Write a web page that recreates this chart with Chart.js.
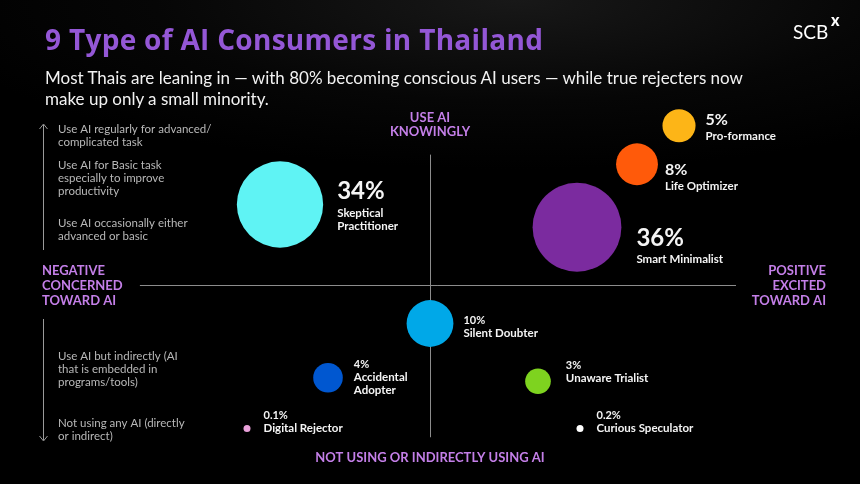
<!DOCTYPE html>
<html>
<head>
<meta charset="utf-8">
<title>9 Type of AI Consumers in Thailand</title>
<script src="https://cdn.jsdelivr.net/npm/chart.js@4.4.1/dist/chart.umd.min.js"></script>
<style>
  html, body { margin: 0; padding: 0; background: #000; overflow: hidden; }
  #wrap {
    position: relative; width: 860px; height: 484px; overflow: hidden;
    background: radial-gradient(ellipse 70% 35% at 60% 0%, #181818 0%, #060606 60%, #000 100%);
    font-family: Lato, "Noto Sans", sans-serif;
  }
  #wrap canvas { position: absolute; left: 0; top: 0; }
  h1 {
    position: absolute; left: 45px; top: 25px; margin: 0;
    font-family: "Open Sans", Lato, sans-serif;
    font-size: 28px; line-height: 28px; font-weight: 700; letter-spacing: 0.3px; color: #9457d6;
  }
  p.sub {
    position: absolute; left: 45px; top: 67px; margin: 0; width: 735px;
    font-size: 17px; line-height: 21px; color: #f2f2f2;
  }
  .logo {
    position: absolute; left: 793px; top: 22px; color: #fff;
    font-size: 19px; line-height: 19px;
  }
  .logo b { position: absolute; left: 38px; top: -12px; font-size: 16px; font-weight: 900; }
</style>
</head>
<body>
<div id="wrap">
  <canvas id="aiChart" width="860" height="484"></canvas>
  <h1>9 Type of AI Consumers in Thailand</h1>
  <p class="sub">Most Thais are leaning in — with 80% becoming conscious AI users — while true rejecters now make up only a small minority.</p>
  <div class="logo">SCB<b>x</b></div>
</div>
<script>
// consumer segments, share of population (%) and position on the two axes
// x: negative/concerned (-) ... positive/excited (+)
// y: not using / indirect (-) ... use AI knowingly (+)
var segments = ['Skeptical Practitioner', 'Pro-formance', 'Life Optimizer', 'Smart Minimalist',
                'Silent Doubter', 'Accidental Adopter', 'Digital Rejector', 'Unaware Trialist', 'Curious Speculator'];
var shares = [34, 5, 8, 36, 10, 4, 0.1, 3, 0.2];
var shareLabels = ['34%', '5%', '8%', '36%', '10%', '4%', '0.1%', '3%', '0.2%'];
var attitude = [-5.0, 8.3, 6.9, 4.9, 0, -3.4, -6.1, 3.6, 5.0];
var usage = [4.6, 9.1, 6.9, 3.3, -2.2, -5.3, -8.2, -5.5, -8.2];

var colors = ['#5ff3f4', '#fdb517', '#ff5a0a', '#7b2b9f', '#00a8e8', '#0057d0', '#e9a1da', '#7ed31f', '#ffffff'];

// label look per segment: percent font size, gap from bubble edge, vertical offsets
var labelLayout = [
  { size: 24, gap: 14, dy: -13, nameGap: 22, wrap: true },
  { size: 16, gap: 10, dy: -6, nameGap: 17 },
  { size: 16, gap: 7, dy: 6, nameGap: 16 },
  { size: 24, gap: 15, dy: 11, nameGap: 21 },
  { size: 11, gap: 10, dy: -3, nameGap: 13 },
  { size: 11, gap: 11, dy: -13, nameGap: 13, wrap: true },
  { size: 11, gap: 13, dy: -13, nameGap: 13 },
  { size: 11, gap: 15, dy: -16, nameGap: 13 },
  { size: 11, gap: 13, dy: -13, nameGap: 13 }
];

var leftNotes = [
  { lines: ['Use AI regularly for advanced/', 'complicated task'], y: 129 },
  { lines: ['Use AI for Basic task', 'especially to improve', 'productivity'], y: 165 },
  { lines: ['Use AI occasionally either', 'advanced or basic'], y: 223 },
  { lines: ['Use AI but indirectly (AI', 'that is embedded in', 'programs/tools)'], y: 356 },
  { lines: ['Not using any AI (directly', 'or indirect)'], y: 423 }
];

var FONT = 'Lato, "Noto Sans", sans-serif';
var AXIS_PURPLE = '#c47fe8';

function bubbleRadius(v) {
  return Math.max(3.5, 7.4 * Math.sqrt(v));
}

var points = segments.map(function (s, i) {
  return { x: attitude[i], y: usage[i] };
});

var quadrantPlugin = {
  id: 'quadrant',
  beforeDatasetsDraw: function (chart) {
    var ctx = chart.ctx, x = chart.scales.x, y = chart.scales.y;
    ctx.save();
    ctx.strokeStyle = '#8c8c8c';
    ctx.lineWidth = 1;
    ctx.beginPath();
    ctx.moveTo(x.getPixelForValue(-9.67), y.getPixelForValue(0) + 0.5);
    ctx.lineTo(x.getPixelForValue(10.2), y.getPixelForValue(0) + 0.5);
    ctx.moveTo(x.getPixelForValue(0) + 0.5, y.getPixelForValue(7.45));
    ctx.lineTo(x.getPixelForValue(0) + 0.5, y.getPixelForValue(-8.7));
    ctx.stroke();

    // side arrows
    ctx.strokeStyle = '#9a9a9a';
    ctx.beginPath();
    ctx.moveTo(43.5, 125); ctx.lineTo(43.5, 250);
    ctx.moveTo(39.5, 129); ctx.lineTo(43.5, 124); ctx.lineTo(47.5, 129);
    ctx.moveTo(43.5, 319); ctx.lineTo(43.5, 440);
    ctx.moveTo(39.5, 436); ctx.lineTo(43.5, 441); ctx.lineTo(47.5, 436);
    ctx.stroke();

    // left notes
    ctx.fillStyle = '#b8b8b8';
    ctx.font = '11.5px ' + FONT;
    ctx.textBaseline = 'middle';
    ctx.textAlign = 'left';
    leftNotes.forEach(function (n) {
      n.lines.forEach(function (l, k) { ctx.fillText(l, 58, n.y + k * 13); });
    });

    // axis titles
    var cx = x.getPixelForValue(0), cy = y.getPixelForValue(0);
    ctx.fillStyle = AXIS_PURPLE;
    ctx.font = 'bold 13px ' + FONT;
    ctx.textAlign = 'center';
    ctx.fillText('USE AI', cx, 118);
    ctx.fillText('KNOWINGLY', cx, 132);
    ctx.fillText('NOT USING OR INDIRECTLY USING AI', cx, 458);
    ctx.textAlign = 'left';
    ['NEGATIVE', 'CONCERNED', 'TOWARD AI'].forEach(function (t, k) { ctx.fillText(t, 42, cy - 14 + k * 15); });
    ctx.textAlign = 'right';
    ['POSITIVE', 'EXCITED', 'TOWARD AI'].forEach(function (t, k) { ctx.fillText(t, 826, cy - 14 + k * 15); });
    ctx.restore();
  },
  afterDatasetsDraw: function (chart) {
    var ctx = chart.ctx;
    var meta = chart.getDatasetMeta(0);
    ctx.save();
    ctx.textAlign = 'left';
    ctx.textBaseline = 'middle';
    ctx.fillStyle = '#f4f4f4';
    meta.data.forEach(function (el, i) {
      var lay = labelLayout[i];
      var lx = el.x + el.options.radius + lay.gap;
      var ly = el.y + lay.dy;
      ctx.font = 'bold ' + lay.size + 'px ' + FONT;
      ctx.fillText(shareLabels[i], lx, ly);
      var names = lay.wrap ? segments[i].split(' ') : [segments[i]];
      ctx.font = 'bold 11.5px ' + FONT;
      names.forEach(function (n, k) {
        ctx.fillText(n, lx, ly + lay.nameGap + k * 13);
      });
    });
    ctx.restore();
  }
};

var ctx = document.getElementById('aiChart').getContext('2d');
var chart = new Chart(ctx, {
  type: 'bubble',
  data: {
    labels: segments,
    datasets: [{
      label: 'Share of consumers',
      data: points,
      backgroundColor: colors,
      borderWidth: 0,
      clip: false,
      radius: function (c) { return bubbleRadius(shares[c.dataIndex]); },
      hoverRadius: 0
    }]
  },
  options: {
    responsive: false,
    animation: false,
    layout: { autoPadding: false, padding: { left: 130, right: 130, top: 110, bottom: 24 } },
    scales: {
      x: { type: 'linear', min: -10, max: 10, display: false },
      y: { type: 'linear', min: -10, max: 10, display: false }
    },
    plugins: {
      legend: { display: false },
      tooltip: {
        callbacks: {
          label: function (c) { return segments[c.dataIndex] + ': ' + shareLabels[c.dataIndex]; }
        }
      }
    }
  },
  plugins: [quadrantPlugin]
});
</script>
</body>
</html>
